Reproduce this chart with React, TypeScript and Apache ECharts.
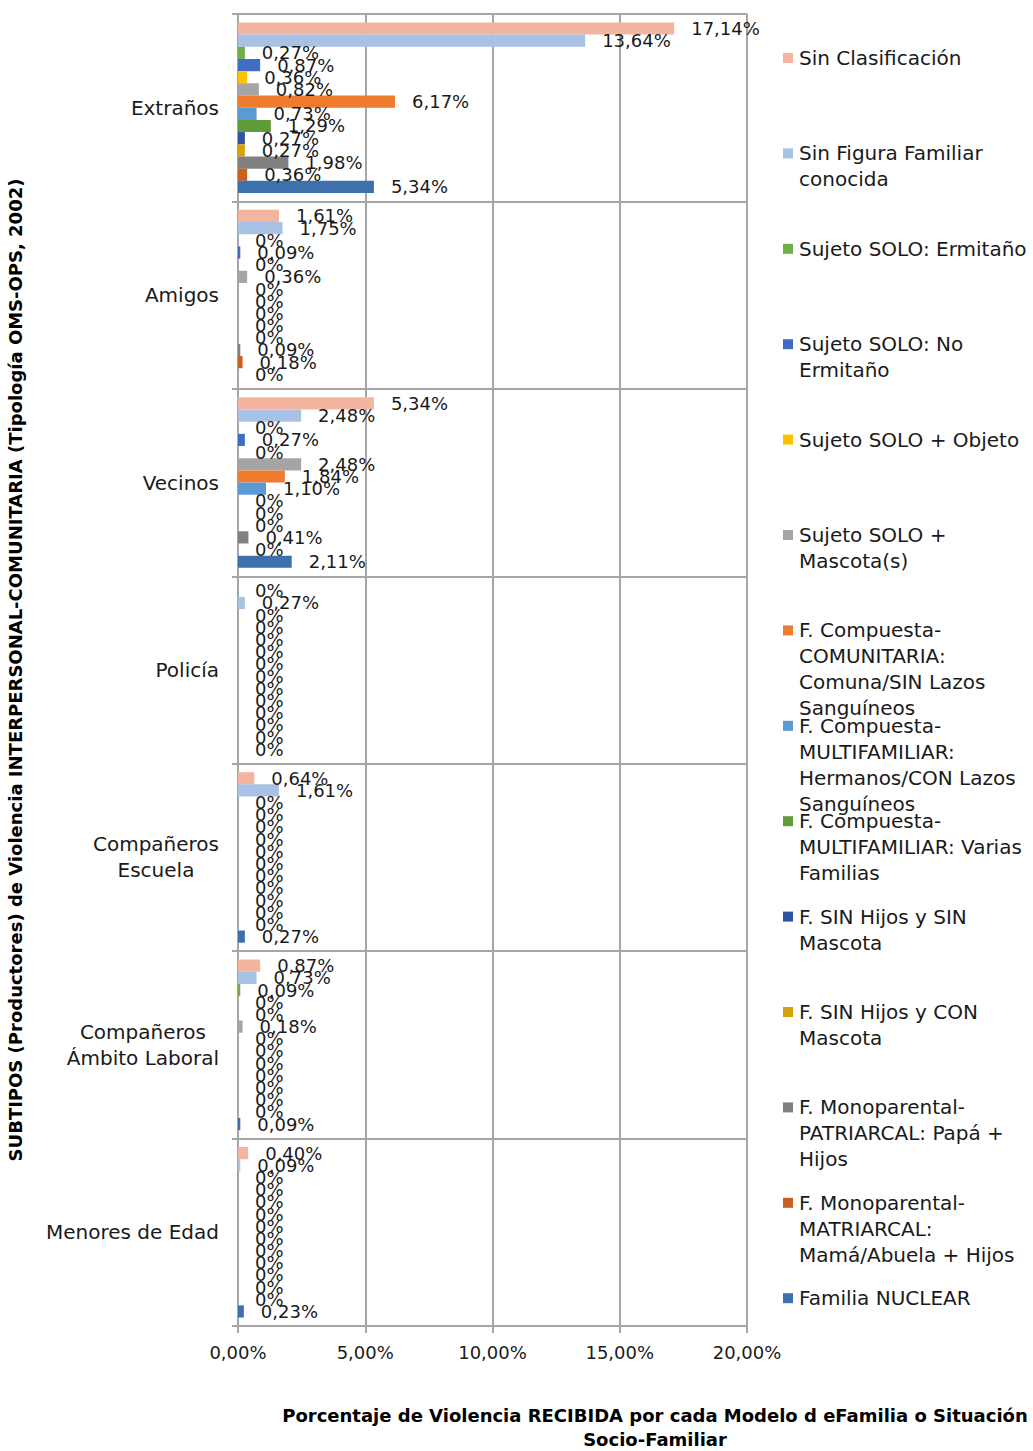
import React, { useEffect, useRef } from "react";
import * as echarts from "echarts";

// Categories (subtypes of interpersonal-community violence), top to bottom
const categories = [
  "Extraños",
  "Amigos",
  "Vecinos",
  "Policía",
  "Compañeros\nEscuela",
  "Compañeros\nÁmbito Laboral",
  "Menores de Edad",
];

// Family models (series), in drawing order within each category
const seriesNames = [
  "Sin Clasificación",
  "Sin Figura Familiar conocida",
  "Sujeto SOLO: Ermitaño",
  "Sujeto SOLO: No Ermitaño",
  "Sujeto SOLO + Objeto",
  "Sujeto SOLO + Mascota(s)",
  "F. Compuesta-COMUNITARIA: Comuna/SIN Lazos Sanguíneos",
  "F. Compuesta-MULTIFAMILIAR: Hermanos/CON Lazos Sanguíneos",
  "F. Compuesta-MULTIFAMILIAR: Varias Familias",
  "F. SIN Hijos y SIN Mascota",
  "F. SIN Hijos y CON Mascota",
  "F. Monoparental-PATRIARCAL: Papá + Hijos",
  "F. Monoparental-MATRIARCAL: Mamá/Abuela + Hijos",
  "Familia NUCLEAR",
];

// Legend texts with their line breaks
const legendLabels = [
  "Sin Clasificación",
  "Sin Figura Familiar\nconocida",
  "Sujeto SOLO: Ermitaño",
  "Sujeto SOLO: No\nErmitaño",
  "Sujeto SOLO + Objeto",
  "Sujeto SOLO +\nMascota(s)",
  "F. Compuesta-\nCOMUNITARIA:\nComuna/SIN Lazos\nSanguíneos",
  "F. Compuesta-\nMULTIFAMILIAR:\nHermanos/CON Lazos\nSanguíneos",
  "F. Compuesta-\nMULTIFAMILIAR: Varias\nFamilias",
  "F. SIN Hijos y SIN\nMascota",
  "F. SIN Hijos y CON\nMascota",
  "F. Monoparental-\nPATRIARCAL: Papá +\nHijos",
  "F. Monoparental-\nMATRIARCAL:\nMamá/Abuela + Hijos",
  "Familia NUCLEAR",
];

const seriesColors = [
  "#F4B5A0",
  "#A8C2E6",
  "#6FAD47",
  "#3F6DC3",
  "#FFC000",
  "#A5A5A5",
  "#EF7B2E",
  "#5B9BD5",
  "#5F9B3B",
  "#2E53A2",
  "#D6A106",
  "#808080",
  "#C9601F",
  "#3D70AC",
];

// Percentages per category (same order as categories)
const sinClasificacion = [17.14, 1.61, 5.34, 0, 0.64, 0.87, 0.4];
const sinFiguraFamiliar = [13.64, 1.75, 2.48, 0.27, 1.61, 0.73, 0.09];
const soloErmitano = [0.27, 0, 0, 0, 0, 0.09, 0];
const soloNoErmitano = [0.87, 0.09, 0.27, 0, 0, 0, 0];
const soloObjeto = [0.36, 0, 0, 0, 0, 0, 0];
const soloMascota = [0.82, 0.36, 2.48, 0, 0, 0.18, 0];
const compuestaComunitaria = [6.17, 0, 1.84, 0, 0, 0, 0];
const compuestaHermanos = [0.73, 0, 1.1, 0, 0, 0, 0];
const compuestaVarias = [1.29, 0, 0, 0, 0, 0, 0];
const sinHijosSinMascota = [0.27, 0, 0, 0, 0, 0, 0];
const sinHijosConMascota = [0.27, 0, 0, 0, 0, 0, 0];
const monoPatriarcal = [1.98, 0.09, 0.41, 0, 0, 0, 0];
const monoMatriarcal = [0.36, 0.18, 0, 0, 0, 0, 0];
const familiaNuclear = [5.34, 0, 2.11, 0, 0.27, 0.09, 0.23];

const seriesValues = [
  sinClasificacion,
  sinFiguraFamiliar,
  soloErmitano,
  soloNoErmitano,
  soloObjeto,
  soloMascota,
  compuestaComunitaria,
  compuestaHermanos,
  compuestaVarias,
  sinHijosSinMascota,
  sinHijosConMascota,
  monoPatriarcal,
  monoMatriarcal,
  familiaNuclear,
];

const xTicks = [0, 5, 10, 15, 20];

const yAxisTitle =
  "SUBTIPOS (Productores) de Violencia INTERPERSONAL-COMUNITARIA (Tipología OMS-OPS, 2002)";
const xAxisTitle =
  "Porcentaje de Violencia RECIBIDA por cada Modelo d eFamilia o Situación\nSocio-Familiar";

const FONT = "'DejaVu Sans', sans-serif";
const TEXT = "#1a1a1a";
const GRID = "#A6A6A6";

const pct = (v: number) => (v === 0 ? "0%" : v.toFixed(2).replace(".", ",") + "%");

export default function App() {
  const ref = useRef<HTMLDivElement>(null);

  useEffect(() => {
    if (!ref.current) return;
    const chart = echarts.init(ref.current, undefined, { renderer: "svg" });

    // Legend: colour square + wrapped name, evenly spaced down the right side
    const legendGraphics: any[] = [];
    legendLabels.forEach((label, i) => {
      const cy = 58 + i * 95.4;
      legendGraphics.push({
        type: "rect",
        shape: { x: 783, y: cy - 5, width: 10, height: 10 },
        style: { fill: seriesColors[i] },
      });
      legendGraphics.push({
        type: "text",
        x: 799,
        y: cy - 13,
        style: {
          text: label,
          font: `20px ${FONT}`,
          fill: TEXT,
          textVerticalAlign: "top",
          lineHeight: 26,
        },
      });
    });

    chart.setOption({
      animation: false,
      textStyle: { fontFamily: FONT },
      grid: { left: 238, right: 286, top: 14, bottom: 125, containLabel: false },
      xAxis: {
        type: "value",
        min: xTicks[0],
        max: xTicks[xTicks.length - 1],
        interval: 5,
        axisLine: { show: true, lineStyle: { color: GRID, width: 2 } },
        axisTick: { show: true, length: 7, lineStyle: { color: GRID, width: 2 } },
        splitLine: { show: true, lineStyle: { color: GRID, width: 2 } },
        axisLabel: {
          formatter: (v: number) => v.toFixed(2).replace(".", ",") + "%",
          fontSize: 18,
          color: TEXT,
          margin: 17,
          fontFamily: FONT,
        },
      },
      yAxis: {
        type: "category",
        inverse: true,
        data: categories,
        name: yAxisTitle,
        nameLocation: "middle",
        nameRotate: 90,
        nameGap: 214,
        nameTextStyle: { fontSize: 18, fontWeight: "bold", color: "#000", fontFamily: FONT },
        axisLine: { show: true, lineStyle: { color: GRID, width: 2 } },
        axisTick: { show: true, length: 6, lineStyle: { color: GRID, width: 2 } },
        splitLine: { show: true, lineStyle: { color: GRID, width: 2 } },
        axisLabel: {
          margin: 19,
          color: TEXT,
          fontSize: 20,
          lineHeight: 26,
          fontFamily: FONT,
          formatter: (v: string) =>
            v
              .split("\n")
              .map((line) => `{c|${line}}`)
              .join("\n"),
          rich: {
            c: { align: "center", fontSize: 20, lineHeight: 26, color: TEXT, fontFamily: FONT },
          },
        },
      },
      series: seriesNames.map((name, i) => ({
        name,
        type: "bar",
        data: seriesValues[i],
        barGap: "0%",
        barCategoryGap: "9%",
        itemStyle: { color: seriesColors[i] },
        label: {
          show: true,
          position: "right",
          distance: 17,
          fontSize: 18,
          color: TEXT,
          fontFamily: FONT,
          formatter: (p: any) => pct(p.value),
        },
      })),
      graphic: [
        ...legendGraphics,
        {
          type: "text",
          x: 655,
          y: 1403,
          style: {
            text: xAxisTitle,
            font: `bold 18px ${FONT}`,
            fill: "#000",
            textAlign: "center",
            textVerticalAlign: "top",
            lineHeight: 24,
          },
        },
      ],
    });

    return () => chart.dispose();
  }, []);

  return (
    <div
      ref={ref}
      style={{ position: "absolute", left: 0, top: 0, width: 1033, height: 1451 }}
    />
  );
}
